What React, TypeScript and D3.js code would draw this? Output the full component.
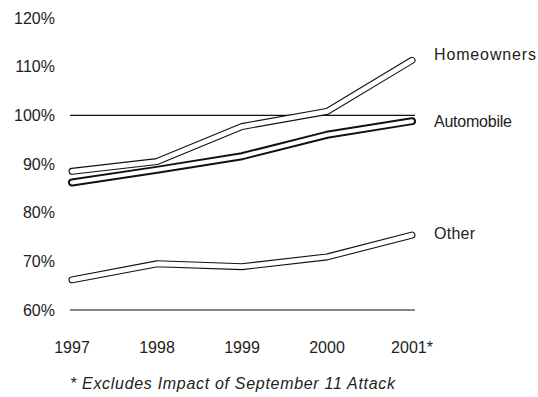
import React from "react";
import * as d3 from "d3";

const years = ["1997", "1998", "1999", "2000", "2001*"];
const homeowners = [0.885, 0.905, 0.977, 1.008, 1.113];
const automobile = [0.862, 0.888, 0.916, 0.96, 0.988];
const other = [0.662, 0.695, 0.689, 0.709, 0.754];
const yTicks = [0.6, 0.7, 0.8, 0.9, 1.0, 1.1, 1.2];
const gridValues = [1.0, 0.6];
const seriesNames = ["Homeowners", "Automobile", "Other"];
const labelY = [60, 127, 239];
const labelLen = [102, 78, 41];
const footnote = "* Excludes Impact of September 11 Attack";

export default function App() {
  const W = 538, H = 397;
  const x = d3.scalePoint<string>().domain(years).range([72, 412]);
  const y = d3.scaleLinear().domain([0.6, 1.2]).range([310, 18]);
  const line = d3
    .line<number>()
    .x((_, i) => x(years[i]) as number)
    .y((d) => y(d));
  const font = "'Liberation Sans', Arial, Helvetica, sans-serif";
  const series = [
    { name: seriesNames[0], data: homeowners, outer: 7, inner: 4.8 },
    { name: seriesNames[1], data: automobile, outer: 8, inner: 4 },
    { name: seriesNames[2], data: other, outer: 7, inner: 4.8 },
  ];
  return (
    <svg width={W} height={H} style={{ position: "absolute", left: 0, top: 0, background: "#fff" }}>
      <rect width={W} height={H} fill="#fff" />
      {gridValues.map((g) => (
        <line key={g} x1={70} x2={415} y1={y(g)} y2={y(g)} stroke="#111" strokeWidth={1.2} />
      ))}
      {yTicks.map((t) => (
        <text
          key={t}
          x={55}
          y={y(t)}
          dy="0.36em"
          textAnchor="end"
          fontFamily={font}
          fontSize={16}
          fill="#222"
        >
          {Math.round(t * 100)}%
        </text>
      ))}
      {years.map((yr) => (
        <text key={yr} x={x(yr)} y={353} textAnchor="middle" fontFamily={font} fontSize={16} fill="#222">
          {yr}
        </text>
      ))}
      {series.map((s) => (
        <g key={s.name}>
          <path d={line(s.data) || ""} fill="none" stroke="#111" strokeWidth={s.outer} strokeLinecap="round" strokeLinejoin="round" />
          <path d={line(s.data) || ""} fill="none" stroke="#fff" strokeWidth={s.inner} strokeLinecap="round" strokeLinejoin="round" />
        </g>
      ))}
      {seriesNames.map((n, i) => (
        <text
          key={n}
          x={434}
          y={labelY[i]}
          fontFamily={font}
          fontSize={16}
          fill="#222"
          textLength={labelLen[i]}
          lengthAdjust="spacing"
        >
          {n}
        </text>
      ))}
      <text
        x={70}
        y={389}
        fontFamily={font}
        fontSize={16}
        fontStyle="italic"
        fill="#222"
        textLength={325}
        lengthAdjust="spacing"
      >
        {footnote}
      </text>
    </svg>
  );
}
